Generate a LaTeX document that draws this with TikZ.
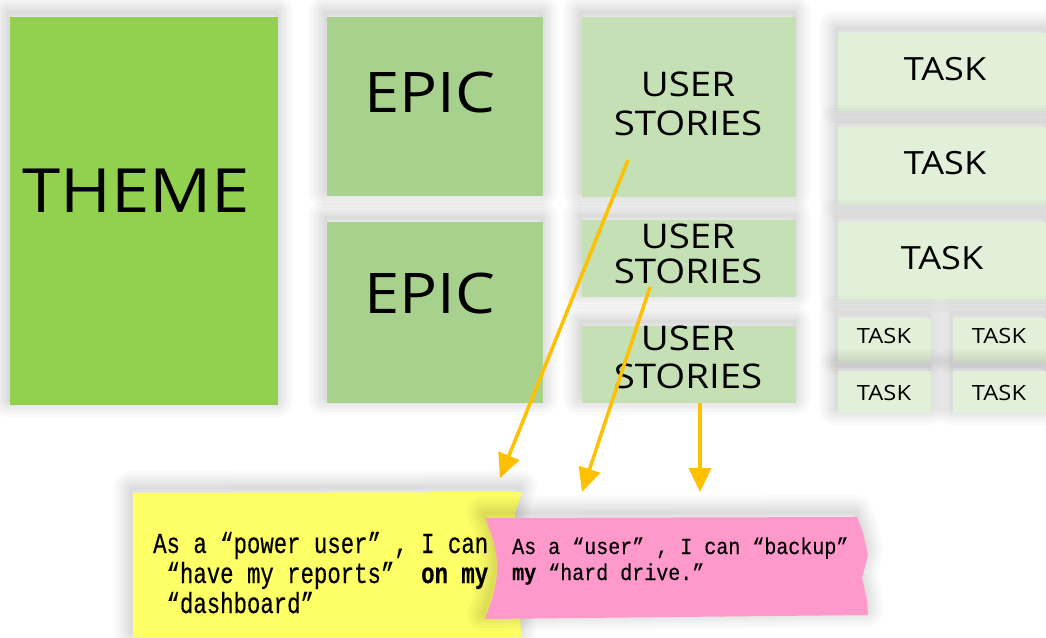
\documentclass[tikz,border=0pt]{standalone}
\usepackage{fontspec}
\setmainfont{Liberation Serif}
\newfontfamily\hand[FakeStretch=1.13]{Open Sans}
\newfontfamily\notefont[FakeStretch=0.77,FakeBold=0.4]{Liberation Mono}
\newfontfamily\notefontsmall[FakeStretch=0.87,FakeBold=0.4]{Liberation Mono}
\usetikzlibrary{arrows.meta}

\definecolor{themegreen}{HTML}{92D050}
\definecolor{epicgreen}{HTML}{A9D18E}
\definecolor{storygreen}{HTML}{C5E0B4}
\definecolor{taskgreen}{HTML}{E2F0D9}
\definecolor{noteyellow}{HTML}{FFFF66}
\definecolor{notepink}{HTML}{FF99CC}
\definecolor{arrowgold}{HTML}{FFC000}

% full-width quotation marks: each takes two character cells
\newcommand\oq{\hphantom{x}“}
\newcommand\cq{”\hphantom{x}}

\begin{document}
\begin{tikzpicture}[x=1pt,y=-1pt,
  halo ring/.style={preaction={draw=black,draw opacity=0.018,line width=#1,
      line join=round,transform canvas={xshift=-2pt,yshift=5pt}}},
  % soft grey halo, strongest above and left of a card
  haze/.style={halo ring=34pt,halo ring=28pt,halo ring=22pt,halo ring=17pt,
      halo ring=12pt,halo ring=7pt,halo ring=3pt},
  card/.style={rectangle,draw=none,inner sep=0pt,haze},
  hand/.style={inner sep=0pt,align=center,text=black},
  link/.style={draw=arrowgold,line width=3.5pt,
      -{Triangle[width=22pt,length=24pt]}}
]
\useasboundingbox (0,0) rectangle (1046,637);
\fill[white] (0,0) rectangle (1046,637);

% theme
\node[card,fill=themegreen,minimum width=268,minimum height=388] (theme) at (144,211) {};
\node[hand,font=\hand\fontsize{61}{61}\selectfont] (themet) at (136,191) {THEME};

% epics
\node[card,fill=epicgreen,minimum width=216,minimum height=179] (epicA) at (435,106.5) {};
\node[hand,font=\hand\fontsize{56}{56}\selectfont] (epicAt) at (430,92) {EPIC};
\node[card,fill=epicgreen,minimum width=216,minimum height=181] (epicB) at (435,312.5) {};
\node[hand,font=\hand\fontsize{56}{56}\selectfont] (epicBt) at (430,293) {EPIC};

% user stories
\node[card,fill=storygreen,minimum width=214,minimum height=180] (storyA) at (689,107) {};
\node[hand,font=\hand\fontsize{34}{39}\selectfont] (storyAt) at (688,104) {USER\\STORIES};
\node[card,fill=storygreen,minimum width=214,minimum height=77] (storyB) at (689,258.5) {};
\node[hand,font=\hand\fontsize{34}{35}\selectfont] (storyBt) at (688,253.5) {USER\\STORIES};
\node[card,fill=storygreen,minimum width=214,minimum height=77] (storyC) at (689,364.5) {};
\node[hand,font=\hand\fontsize{34}{38}\selectfont] (storyCt) at (688,357) {USER\\STORIES};

% tasks
\node[card,fill=taskgreen,minimum width=208,minimum height=78] (taskA) at (942,72) {};
\node[hand,font=\hand\fontsize{32}{32}\selectfont] (taskAt) at (945,69) {TASK};
\node[card,fill=taskgreen,minimum width=208,minimum height=78] (taskB) at (942,166) {};
\node[hand,font=\hand\fontsize{32}{32}\selectfont] (taskBt) at (945,163) {TASK};
\node[card,fill=taskgreen,minimum width=208,minimum height=78] (taskC) at (942,261) {};
\node[hand,font=\hand\fontsize{32}{32}\selectfont] (taskCt) at (942,258) {TASK};

\node[card,fill=taskgreen,minimum width=93,minimum height=44] (taskD) at (884.5,340) {};
\node[hand,font=\hand\fontsize{21}{21}\selectfont] (taskDt) at (884,336) {TASK};
\node[card,fill=taskgreen,minimum width=93,minimum height=44] (taskE) at (999.5,340) {};
\node[hand,font=\hand\fontsize{21}{21}\selectfont] (taskEt) at (999,336) {TASK};
\node[card,fill=taskgreen,minimum width=93,minimum height=42] (taskF) at (884.5,392) {};
\node[hand,font=\hand\fontsize{21}{21}\selectfont] (taskFt) at (884,393) {TASK};
\node[card,fill=taskgreen,minimum width=93,minimum height=42] (taskG) at (999.5,392) {};
\node[hand,font=\hand\fontsize{21}{21}\selectfont] (taskGt) at (999,393) {TASK};

% arrow anchors
\coordinate (fromA) at (628,160);
\coordinate (toA) at (500,478);
\coordinate (fromB) at (650,287);
\coordinate (toB) at (582,492);
\coordinate (fromC) at (700,403);
\coordinate (toC) at (700,492);

\draw[link] (fromA) -- (toA);
\draw[link] (fromB) -- (toB);
\draw[link] (fromC) -- (toC);

% sticky notes
\fill[noteyellow,haze] (133,493) -- (522,492) -- (515,513) -- (519,580) -- (521,637)
  -- (133,637) -- cycle;
\node[anchor=base west,inner sep=0pt,align=left,
      font=\notefont\fontsize{29}{30}\selectfont] (noteA) at (153,613)
  {As a\oq power user\cq, I can\\
   \oq have my reports\cq\ \textbf{on my}\\
   \oq dashboard\cq};

\fill[notepink,haze] (485,518) .. controls (493,535) and (498,555) .. (497,572)
  .. controls (496,590) and (490,605) .. (485,619)
  -- (868,615) -- (867,600) -- (862,578) -- (868,555) -- (863,533) -- (857,517) -- cycle;
\node[anchor=base west,inner sep=0pt,align=left,
      font=\notefontsmall\fontsize{23}{26}\selectfont] (noteB) at (512,580)
  {As a\oq user\cq, I can\oq backup\cq\\
   \textbf{my}\oq hard drive.\cq};

\end{tikzpicture}
\end{document}
